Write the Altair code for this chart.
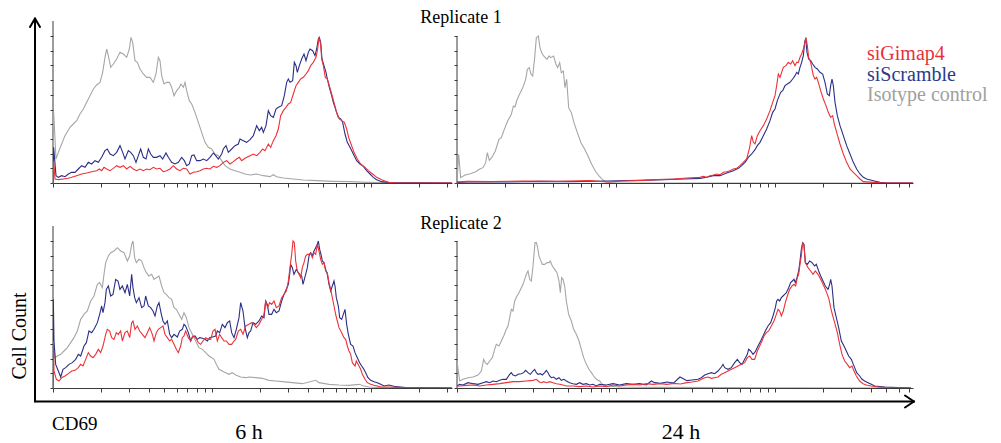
import altair as alt
import pandas as pd

# Flow-cytometry CD69 histograms: (channel, count); 477 channels per decade,
# counts scaled so the top y tick is 441.
CH_PER_DECADE = 477

# ---------------- Replicate 1, 6 h ----------------
r1_6h_iso = [(0,0),(2,212),(9,72),(16,92),(26,117),(36,142),(51,167),(61,177),(71,187),(81,207),(91,222),(101,242),(111,262),(121,282),(131,294),(141,302),(149,332),(156,377),(161,402),(166,382),(173,347),(181,357),(191,372),(201,392),(211,387),(221,377),(229,402),(234,437),(239,422),(246,367),(253,362),(261,342),(271,327),(281,317),(291,317),(301,302),(309,327),(316,377),(321,367),(326,322),(333,297),(341,302),(349,302),(356,287),(363,262),(371,277),(379,287),(384,297),(391,287),(396,302),(401,277),(409,247),(416,237),(426,212),(436,182),(446,152),(456,122),(466,107),(476,102),(486,87),(496,82),(506,67),(516,52),(531,42),(546,37),(561,32),(576,27),(591,24),(611,27),(631,22),(651,19),(661,25),(671,19),(691,15),(721,12),(751,9),(791,7),(841,5),(891,4),(941,2),(991,1),(1041,0),(1197,0)]
r1_6h_scr = [(0,0),(2,107),(9,22),(16,17),(26,22),(36,19),(46,27),(56,32),(66,32),(76,42),(86,52),(96,47),(106,62),(116,57),(126,67),(136,62),(146,77),(156,97),(163,102),(171,87),(181,82),(191,92),(201,112),(209,92),(216,72),(226,97),(233,92),(241,82),(249,62),(256,82),(263,102),(271,77),(279,72),(286,102),(293,87),(301,77),(311,77),(321,82),(329,72),(339,90),(346,77),(356,62),(366,57),(376,62),(386,77),(394,67),(401,52),(409,57),(416,82),(423,84),(431,67),(441,67),(451,72),(461,67),(471,77),(481,90),(488,82),(496,72),(506,87),(511,102),(519,112),(526,92),(536,102),(546,112),(556,117),(561,132),(571,127),(581,122),(591,130),(601,142),(611,172),(619,157),(626,167),(631,152),(639,172),(646,217),(653,202),(661,197),(669,222),(676,227),(686,232),(694,262),(701,302),(706,312),(711,302),(719,307),(724,362),(729,352),(733,332),(739,352),(746,372),(753,387),(759,367),(766,392),(771,402),(779,397),(786,382),(791,402),(796,432),(799,437),(803,422),(807,372),(813,352),(819,332),(823,312),(829,287),(836,262),(841,242),(849,217),(856,197),(863,192),(869,182),(876,147),(883,122),(891,107),(901,87),(911,67),(921,57),(931,50),(941,37),(951,27),(961,17),(971,10),(986,4),(1011,1),(1197,0)]
r1_6h_gim = [(0,0),(2,67),(6,12),(16,10),(31,12),(46,14),(56,17),(71,22),(86,27),(101,30),(116,34),(131,37),(139,42),(146,37),(153,47),(161,42),(171,37),(181,44),(191,52),(201,47),(211,52),(221,42),(231,50),(241,42),(251,37),(261,42),(271,37),(281,42),(291,40),(301,47),(311,42),(321,44),(331,34),(341,37),(351,42),(361,52),(371,42),(381,37),(391,44),(401,42),(411,27),(421,32),(431,34),(441,37),(451,42),(461,44),(471,42),(481,50),(491,47),(501,52),(511,62),(521,67),(531,57),(541,64),(551,72),(559,77),(566,67),(576,74),(591,82),(601,87),(611,82),(621,92),(629,102),(636,97),(646,117),(653,107),(661,127),(669,142),(676,162),(683,202),(691,217),(699,227),(706,237),(713,242),(721,267),(729,292),(736,302),(743,312),(751,317),(759,327),(766,337),(773,352),(781,362),(789,377),(794,402),(798,437),(803,417),(806,372),(811,352),(817,317),(823,312),(829,292),(836,267),(843,242),(851,212),(859,192),(866,187),(874,182),(881,162),(887,137),(894,117),(903,92),(913,72),(923,57),(936,47),(946,37),(959,27),(971,17),(986,10),(1006,2),(1031,0),(1197,0)]

# ---------------- Replicate 1, 24 h ----------------
r1_24h_iso = [(0,0),(5,86),(11,16),(24,24),(40,28),(56,34),(67,41),(78,46),(86,61),(91,91),(97,68),(104,76),(115,96),(126,131),(133,136),(142,161),(152,186),(163,206),(169,231),(174,228),(179,246),(185,261),(195,281),(201,296),(206,311),(211,341),(217,346),(222,326),(227,321),(233,376),(238,436),(244,441),(249,406),(254,391),(260,381),(265,376),(270,371),(276,381),(281,376),(290,381),(297,356),(302,346),(308,361),(313,331),(319,336),(324,286),(329,311),(335,226),(343,211),(351,181),(361,151),(372,121),(383,101),(393,81),(404,56),(415,36),(426,21),(436,11),(447,3),(463,1),(485,0),(1368,0)]
r1_24h_scr = [(0,2),(50,4),(150,3),(250,5),(350,4),(450,6),(550,8),(620,10),(680,12),(729,14),(749,17),(769,22),(789,22),(809,30),(829,37),(844,44),(854,52),(864,62),(874,77),(884,87),(894,100),(901,112),(909,122),(919,142),(929,162),(939,187),(947,212),(954,222),(961,247),(967,262),(971,272),(977,277),(984,292),(991,297),(999,302),(1007,312),(1014,322),(1019,332),(1024,327),(1029,347),(1034,362),(1039,382),(1043,422),(1046,434),(1050,392),(1055,372),(1061,367),(1067,357),(1074,347),(1081,342),(1089,332),(1097,327),(1104,302),(1111,267),(1117,262),(1121,292),(1125,312),(1129,292),(1134,242),(1141,202),(1149,172),(1159,142),(1169,112),(1179,87),(1189,62),(1199,42),(1209,27),(1219,17),(1229,12),(1249,7),(1269,2),(1289,0),(1368,0)]
r1_24h_gim = [(0,3),(30,5),(100,4),(200,6),(300,5),(400,7),(450,3),(500,6),(560,8),(600,10),(650,12),(690,15),(729,17),(739,20),(749,17),(759,22),(769,24),(779,27),(789,25),(799,32),(809,34),(819,37),(829,42),(839,44),(849,52),(859,62),(869,72),(877,102),(884,142),(889,122),(894,117),(901,142),(909,157),(919,172),(929,192),(939,217),(947,242),(954,262),(959,292),(964,327),(969,317),(974,332),(979,347),(987,352),(994,362),(1001,357),(1007,367),(1014,352),(1019,362),(1024,362),(1029,377),(1034,387),(1039,402),(1044,422),(1047,437),(1051,412),(1055,377),(1061,362),(1069,322),(1074,312),(1079,317),(1084,302),(1091,277),(1099,252),(1107,232),(1114,212),(1121,197),(1127,202),(1132,177),(1139,152),(1149,117),(1159,87),(1169,62),(1179,42),(1189,32),(1199,22),(1209,12),(1219,4),(1249,2),(1279,0),(1368,0)]

# ---------------- Replicate 2, 6 h ----------------
r2_6h_iso = [(0,0),(3,120),(6,91),(13,96),(23,101),(33,111),(43,121),(53,136),(63,151),(73,171),(83,206),(93,221),(103,231),(113,261),(123,276),(133,311),(140,316),(148,301),(153,341),(158,376),(166,396),(173,406),(183,411),(193,421),(203,411),(213,406),(223,381),(230,396),(236,431),(240,441),(245,391),(250,376),(258,386),(266,381),(273,361),(280,346),(288,336),(296,341),(303,326),(310,331),(318,336),(326,306),(333,286),(340,281),(348,271),(356,266),(363,241),(370,236),(378,221),(386,206),(393,226),(400,211),(408,181),(418,161),(428,141),(438,121),(448,116),(458,106),(468,96),(476,91),(483,86),(490,71),(498,56),(508,51),(518,46),(528,41),(538,46),(548,39),(563,33),(578,31),(588,33),(608,31),(628,29),(648,23),(668,21),(688,19),(718,16),(748,13),(788,23),(798,16),(828,11),(858,9),(888,8),(918,11),(933,6),(948,3),(988,1),(1197,0)]
r2_6h_scr = [(0,0),(1,266),(3,141),(8,71),(16,51),(23,33),(30,56),(38,61),(48,71),(58,76),(68,86),(76,101),(83,96),(93,126),(100,136),(108,171),(116,166),(123,176),(133,196),(140,221),(146,246),(150,226),(156,256),(160,296),(166,306),(173,276),(180,281),(188,326),(195,321),(201,296),(208,306),(216,286),(223,311),(230,276),(236,341),(240,301),(245,271),(250,256),(258,271),(266,241),(273,246),(278,276),(286,246),(293,241),(300,231),(306,216),(313,246),(318,256),(325,221),(330,201),(336,191),(343,201),(350,161),(356,151),(363,161),(373,153),(380,171),(388,176),(393,191),(398,186),(406,166),(413,141),(418,153),(426,156),(433,146),(440,151),(448,149),(456,146),(463,141),(470,151),(478,153),(488,156),(493,171),(500,166),(508,191),(516,181),(523,196),(530,201),(536,166),(543,151),(550,176),(558,211),(563,256),(570,231),(576,181),(583,151),(588,166),(593,171),(600,196),(608,191),(618,201),(626,216),(633,211),(638,261),(643,251),(648,221),(656,221),(663,236),(670,226),(678,231),(686,261),(693,281),(700,296),(706,311),(710,341),(713,371),(718,361),(723,341),(730,356),(736,346),(740,341),(746,336),(750,311),(758,341),(763,361),(768,396),(773,406),(778,396),(783,411),(788,421),(793,431),(796,441),(800,416),(804,401),(808,381),(813,376),(818,356),(823,341),(828,311),(833,291),(838,306),(843,321),(846,306),(850,271),(856,246),(860,211),(866,206),(871,221),(876,236),(881,191),(886,161),(893,131),(900,126),(906,106),(913,91),(920,76),(926,66),(931,59),(938,46),(945,31),(953,23),(963,19),(973,16),(983,11),(993,6),(1008,9),(1028,4),(1058,1),(1197,0)]
r2_6h_gim = [(0,0),(1,141),(3,51),(10,26),(18,21),(26,31),(36,36),(46,43),(56,51),(66,53),(76,61),(83,71),(90,66),(98,86),(106,106),(113,96),(120,91),(128,101),(136,116),(143,106),(150,126),(158,161),(163,176),(170,171),(176,151),(183,146),(190,166),(196,161),(203,171),(208,141),(216,166),(223,171),(230,151),(236,196),(240,201),(246,176),(253,186),(260,171),(268,161),(276,151),(283,166),(290,181),(298,161),(303,141),(310,166),(316,176),(323,181),(330,186),(336,161),(343,151),(350,141),(356,146),(363,131),(370,116),(376,106),(383,126),(388,151),(393,156),(398,171),(406,151),(413,141),(420,156),(428,151),(436,136),(443,131),(450,141),(458,151),(466,146),(473,146),(480,171),(486,176),(493,141),(500,161),(506,151),(513,141),(520,141),(528,131),(536,131),(543,141),(548,146),(556,171),(563,176),(570,161),(578,186),(588,191),(596,196),(603,191),(610,181),(618,191),(626,206),(633,221),(638,261),(644,241),(650,256),(656,251),(663,261),(670,241),(678,246),(686,271),(693,281),(700,291),(706,321),(711,361),(716,401),(720,441),(724,436),(728,381),(733,351),(738,341),(743,331),(748,361),(753,376),(758,396),(763,401),(768,401),(773,406),(778,391),(783,406),(788,401),(793,431),(798,411),(803,386),(808,371),(813,376),(818,351),(823,346),(828,316),(833,296),(838,271),(843,246),(848,221),(853,201),(858,181),(866,166),(873,151),(878,146),(883,126),(888,111),(893,101),(898,76),(906,66),(910,81),(918,66),(923,56),(928,41),(936,26),(943,16),(953,11),(963,8),(973,6),(983,3),(1008,3),(1048,1),(1197,0)]

# ---------------- Replicate 2, 24 h ----------------
r2_24h_iso = [(0,81),(8,21),(18,26),(33,31),(48,33),(63,39),(73,51),(80,86),(85,76),(91,71),(98,81),(106,91),(113,116),(118,131),(126,126),(133,141),(140,156),(148,176),(153,186),(158,211),(163,236),(168,231),(173,261),(180,276),(186,286),(193,301),(198,311),(203,326),(208,341),(213,351),(218,326),(223,321),(228,366),(231,401),(234,436),(238,436),(241,426),(246,396),(250,386),(256,371),(263,371),(270,376),(276,376),(280,381),(286,366),(293,356),(300,346),(306,321),(310,286),(314,331),(318,326),(323,306),(328,261),(335,221),(343,201),(350,176),(358,161),(366,141),(373,116),(380,91),(388,71),(396,56),(403,46),(410,36),(418,26),(428,21),(436,11),(448,6),(488,3),(600,2),(800,1),(1362,0)]
r2_24h_scr = [(0,6),(8,11),(18,9),(33,16),(48,13),(63,11),(78,16),(88,19),(98,16),(108,21),(118,19),(128,23),(138,26),(148,26),(158,41),(163,46),(168,39),(176,36),(183,41),(193,43),(200,46),(206,53),(213,46),(220,41),(228,51),(233,56),(238,46),(243,41),(250,43),(256,39),(263,46),(268,53),(273,46),(278,36),(283,31),(290,33),(298,26),(306,31),(313,23),(321,26),(328,21),(338,16),(348,13),(358,11),(368,16),(378,11),(388,13),(398,9),(408,11),(418,6),(428,11),(448,9),(468,13),(488,9),(508,13),(528,11),(548,13),(568,9),(583,21),(593,16),(610,14),(630,18),(650,15),(669,33),(690,22),(705,24),(723,26),(733,31),(743,39),(753,43),(763,46),(773,43),(783,51),(793,63),(798,71),(803,61),(813,56),(823,61),(833,76),(841,86),(848,76),(855,71),(863,86),(871,101),(875,116),(881,111),(888,101),(895,109),(903,126),(911,141),(918,156),(925,171),(933,186),(941,196),(948,216),(955,241),(959,261),(963,266),(968,261),(973,271),(978,276),(983,281),(988,286),(995,301),(1001,316),(1006,321),(1011,326),(1015,316),(1020,331),(1025,351),(1029,381),(1033,416),(1037,436),(1041,431),(1045,376),(1051,371),(1058,381),(1065,376),(1073,366),(1078,371),(1085,351),(1091,336),(1098,321),(1105,306),(1113,296),(1118,311),(1121,326),(1125,306),(1131,241),(1138,211),(1145,181),(1153,141),(1161,126),(1168,111),(1175,96),(1183,86),(1189,71),(1193,61),(1199,46),(1208,36),(1215,26),(1223,21),(1233,16),(1243,11),(1253,6),(1283,3),(1323,1),(1362,0)]
r2_24h_gim = [(0,6),(8,6),(28,8),(48,9),(68,6),(88,9),(108,11),(128,13),(148,16),(168,19),(188,19),(208,21),(228,23),(238,26),(246,19),(253,16),(260,19),(268,16),(278,19),(288,16),(298,13),(308,11),(318,9),(328,6),(348,6),(368,4),(388,6),(408,3),(428,6),(448,4),(468,9),(488,6),(508,9),(528,11),(548,9),(568,13),(588,11),(610,13),(630,11),(650,14),(670,12),(690,16),(705,18),(723,21),(733,26),(743,31),(753,33),(763,29),(773,31),(783,33),(793,41),(803,46),(813,51),(823,56),(833,61),(843,66),(853,71),(863,76),(871,91),(878,96),(885,86),(893,86),(901,111),(908,126),(915,141),(921,156),(928,166),(935,171),(943,186),(951,201),(958,221),(963,236),(968,231),(973,216),(979,231),(985,256),(991,276),(998,296),(1005,306),(1011,311),(1016,306),(1021,331),(1025,341),(1029,371),(1033,396),(1037,436),(1041,426),(1045,376),(1053,361),(1061,351),(1068,341),(1075,351),(1083,341),(1091,326),(1098,311),(1105,296),(1111,281),(1116,266),(1121,241),(1126,221),(1133,196),(1141,166),(1148,131),(1155,101),(1163,81),(1171,71),(1178,61),(1185,66),(1191,51),(1198,36),(1208,21),(1218,13),(1228,9),(1243,6),(1263,3),(1293,1),(1362,0)]

series_names = ["Isotype control", "siScramble", "siGimap4"]
series_colors = ["#a6a6a6", "#2b2f86", "#ec3238"]
legend_colors = ["#e8303a", "#2b3a8c", "#a0a0a0"]
y_tick_values = [44.1 * i for i in range(11)]
FONT = "Liberation Serif"
AXC = "#3a3a3a"

LEFT_W, RIGHT_W, PANEL_H = 399, 456, 162
Y_MAX = 486


def curve_df(points):
    return pd.DataFrame({
        "intensity": [10 ** (c / CH_PER_DECADE) for c, _ in points],
        "count": [n for _, n in points],
        "i": list(range(len(points))),
    })


def one_row():
    return pd.DataFrame({"k": [0]})


def panel(curves, width, yline_top, extras):
    xmax = 10 ** (width * 3 / CH_PER_DECADE)
    xticks = [k * 10 ** d for d in range(4) for k in range(1, 10) if k * 10 ** d <= xmax]
    xs = alt.Scale(type="log", domain=[1, xmax], nice=False)
    ys = alt.Scale(domain=[0, Y_MAX], nice=False, zero=True)
    xa = alt.Axis(values=xticks, labels=False, title=None, grid=False, tickSize=4,
                  domainColor=AXC, tickColor=AXC, domainWidth=1, tickWidth=1)
    ya = alt.Axis(values=y_tick_values, labels=False, title=None, grid=False, tickSize=3,
                  domain=False, tickColor=AXC, tickWidth=1)
    layers = [
        alt.Chart(one_row()).mark_rule(color=AXC, strokeWidth=1).encode(
            x=alt.value(0), y=alt.datum(0, scale=ys, axis=ya, type="quantitative"),
            y2=alt.datum(yline_top))
    ]
    for pts, color in zip(curves, series_colors):
        layers.append(
            alt.Chart(curve_df(pts)).mark_line(color=color, strokeWidth=1.1, clip=True,
                                               interpolate="linear").encode(
                x=alt.X("intensity:Q", scale=xs, axis=xa),
                y=alt.Y("count:Q", scale=ys, axis=ya),
                order="i:Q"))
    layers.extend(extras)
    return alt.layer(*layers).properties(width=width, height=PANEL_H)


def label(text, x, y, size, color="black", align="center", angle=0, baseline="alphabetic"):
    kw = dict(text=text, font=FONT, fontSize=size, color=color, align=align, baseline=baseline)
    if angle:
        kw["angle"] = angle
    return alt.Chart(one_row()).mark_text(**kw).encode(x=alt.value(x), y=alt.value(y))


def seg(x1, y1, x2, y2, w=2):
    return alt.Chart(one_row()).mark_rule(color="black", strokeWidth=w, strokeCap="round").encode(
        x=alt.value(x1), y=alt.value(y1), x2=alt.value(x2), y2=alt.value(y2))


AX_X = -18       # big y arrow, relative to lower-left panel
AX_Y = 175.5     # big x arrow
tl_extra = [label("Replicate 1", 408, 1.5, 18)]
tr_extra = [label(n, 410, y, 20, c, align="left")
            for n, c, y in zip(["siGimap4", "siScramble", "Isotype control"],
                               legend_colors, [39, 60, 80])]
bl_extra = [
    label("Replicate 2", 408, 3, 18),
    label("Cell Count", -27, 110, 20, angle=270),
    label("CD69", -1, 204, 19, align="left"),
    label("6 h", 196, 213, 22),
    label("24 h", 628, 213, 22),
    seg(AX_X, AX_Y, AX_X, -207.5),
    seg(AX_X - 5, -199, AX_X, -207.5),
    seg(AX_X + 5, -199, AX_X, -207.5),
    seg(AX_X, AX_Y, 861, AX_Y),
    seg(852, AX_Y - 6, 861, AX_Y),
    seg(852, AX_Y + 6, 861, AX_Y),
]

tl = panel([r1_6h_iso, r1_6h_scr, r1_6h_gim], LEFT_W, Y_MAX, tl_extra)
tr = panel([r1_24h_iso, r1_24h_scr, r1_24h_gim], RIGHT_W, 441, tr_extra)
bl = panel([r2_6h_iso, r2_6h_scr, r2_6h_gim], LEFT_W, Y_MAX, bl_extra)
br = panel([r2_24h_iso, r2_24h_scr, r2_24h_gim], RIGHT_W, 441, [])

chart = alt.concat(
    tl, tr, bl, br, columns=2,
    spacing={"row": 43, "column": 5}, bounds="flush", align="each",
    padding={"left": 2, "top": 0, "right": 0, "bottom": 0},
    background="white",
).configure_view(stroke=None)

chart.save("out.html", embed_options={"renderer": "svg", "actions": False})
